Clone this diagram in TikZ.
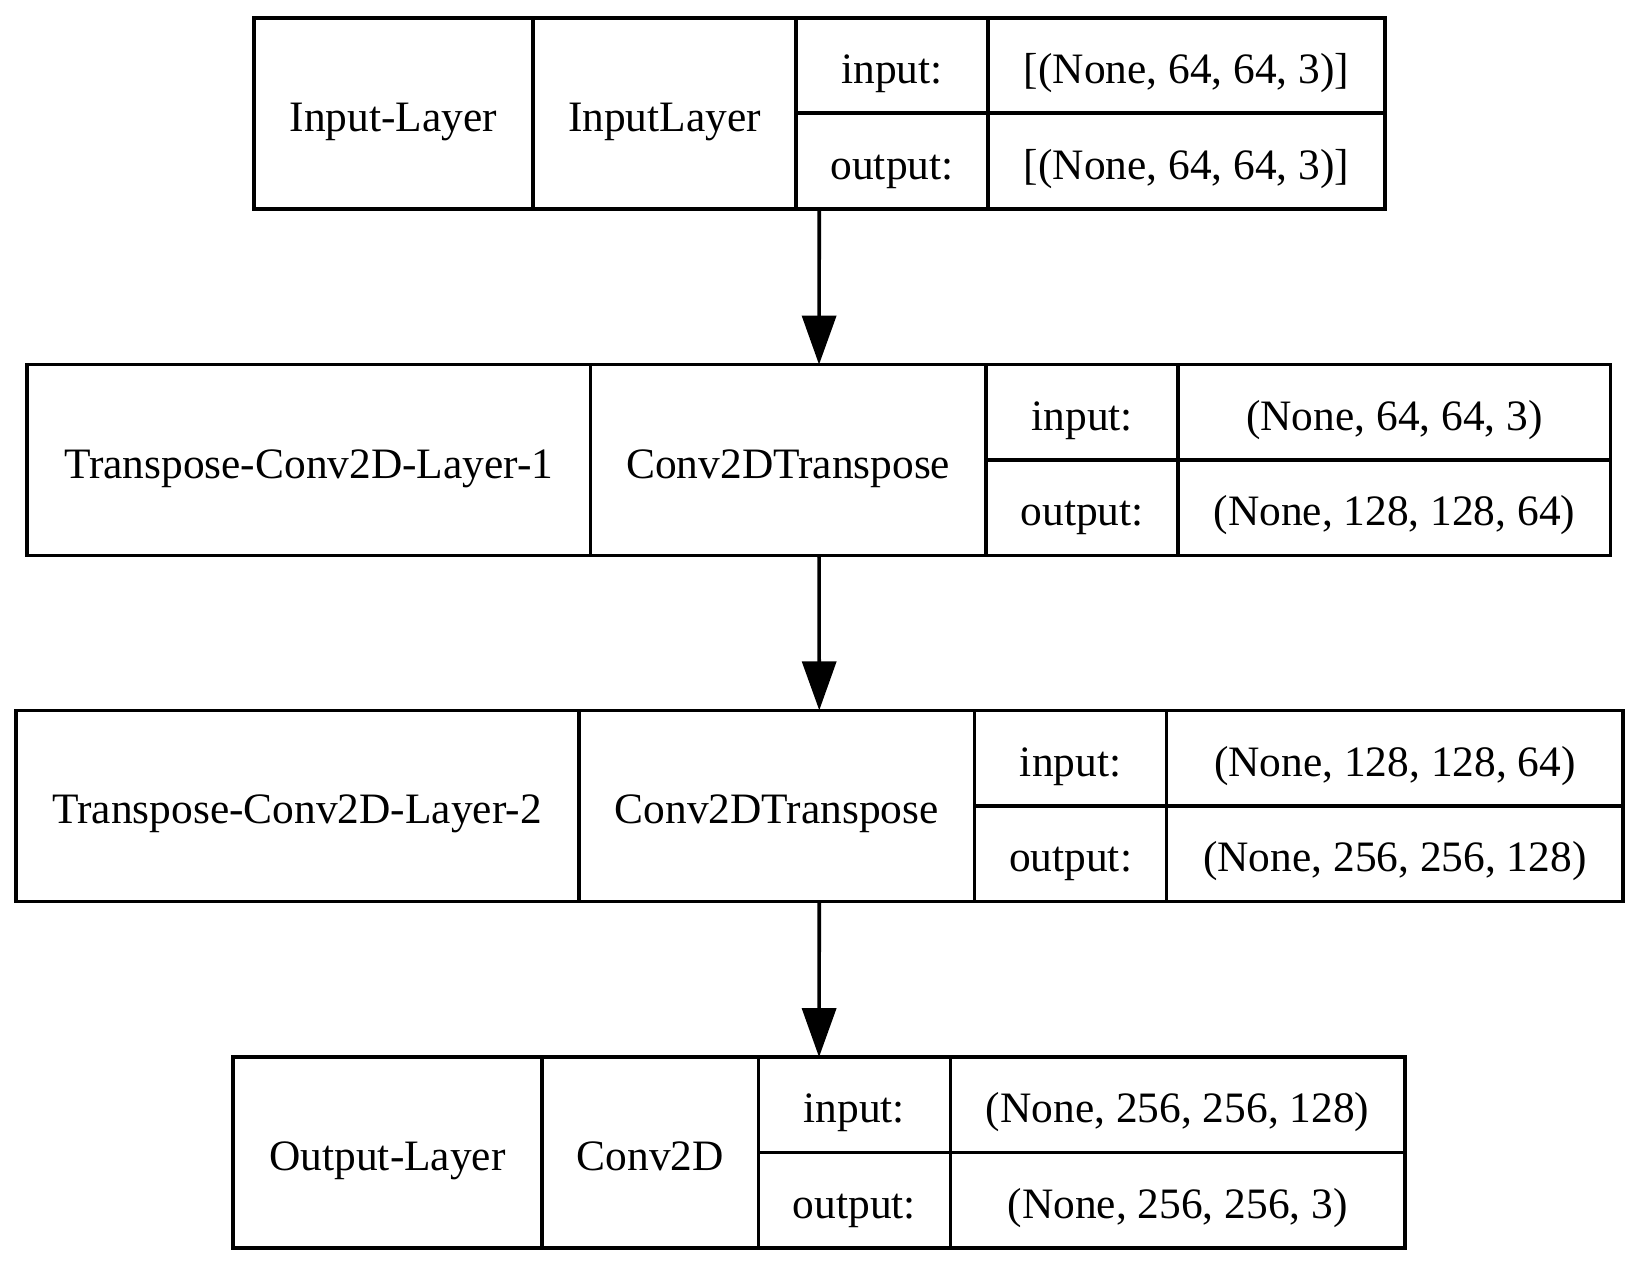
\documentclass[tikz,border=0pt]{standalone}
\usepackage{fontspec}
\setmainfont{Liberation Serif}
\usetikzlibrary{positioning, arrows.meta, fit}

\tikzset{
  cell/.style={draw, line width=1.8pt, inner sep=0pt, outer sep=0pt, minimum height=95.5pt, text height=18pt, text depth=0pt, font=\fontsize{21.7}{26}\selectfont},
  half/.style={cell, minimum height=47.75pt, minimum width=96pt},
  layer/.style={inner sep=0pt, outer sep=0pt},
  flow/.style={-{Triangle[length=24.5pt, width=17pt]}, line width=1.8pt},
}

\begin{document}
\begin{tikzpicture}[x=0.5pt, y=-0.5pt]
    \useasboundingbox (0,0) rectangle (1638,1267);

    % input layer
    \node[cell, anchor=north west, minimum width=139.5pt] (name1) at (253.85,17.8) {Input-Layer};
    \node[cell, right=0pt of name1, minimum width=131.6pt] (type1) {InputLayer};
    \node[half, anchor=north west] (in1) at (type1.north east) {input:};
    \node[half, below=0pt of in1] (out1) {output:};
    \node[half, right=0pt of in1, minimum width=198.45pt] (ins1) {[(None, 64, 64, 3)]};
    \node[half, right=0pt of out1, minimum width=198.45pt] (outs1) {[(None, 64, 64, 3)]};
    \node[layer, fit=(name1)(outs1)] (layer1) {};

    % first transpose conv
    \node[cell, anchor=north west, minimum width=281.55pt] (name2) at (27.2,364.6) {Transpose-Conv2D-Layer-1};
    \node[cell, right=0pt of name2, minimum width=197.95pt] (type2) {Conv2DTranspose};
    \node[half, anchor=north west] (in2) at (type2.north east) {input:};
    \node[half, below=0pt of in2] (out2) {output:};
    \node[half, right=0pt of in2, minimum width=216.2pt] (ins2) {(None, 64, 64, 3)};
    \node[half, right=0pt of out2, minimum width=216.2pt] (outs2) {(None, 128, 128, 64)};
    \node[layer, fit=(name2)(outs2)] (layer2) {};

    % second transpose conv
    \node[cell, anchor=north west, minimum width=281.5pt] (name3) at (15.7,710.3) {Transpose-Conv2D-Layer-2};
    \node[cell, right=0pt of name3, minimum width=197.95pt] (type3) {Conv2DTranspose};
    \node[half, anchor=north west] (in3) at (type3.north east) {input:};
    \node[half, below=0pt of in3] (out3) {output:};
    \node[half, right=0pt of in3, minimum width=228.25pt] (ins3) {(None, 128, 128, 64)};
    \node[half, right=0pt of out3, minimum width=228.25pt] (outs3) {(None, 256, 256, 128)};
    \node[layer, fit=(name3)(outs3)] (layer3) {};

    % output layer
    \node[cell, anchor=north west, minimum width=154.6pt] (name4) at (232.95,1057.1) {Output-Layer};
    \node[cell, right=0pt of name4, minimum width=108.1pt] (type4) {Conv2D};
    \node[half, anchor=north west] (in4) at (type4.north east) {input:};
    \node[half, below=0pt of in4] (out4) {output:};
    \node[half, right=0pt of in4, minimum width=227.25pt] (ins4) {(None, 256, 256, 128)};
    \node[half, right=0pt of out4, minimum width=227.25pt] (outs4) {(None, 256, 256, 3)};
    \node[layer, fit=(name4)(outs4)] (layer4) {};

    \draw[flow] (layer1) -- (layer2);
    \draw[flow] (layer2) -- (layer3);
    \draw[flow] (layer3) -- (layer4);
\end{tikzpicture}
\end{document}
